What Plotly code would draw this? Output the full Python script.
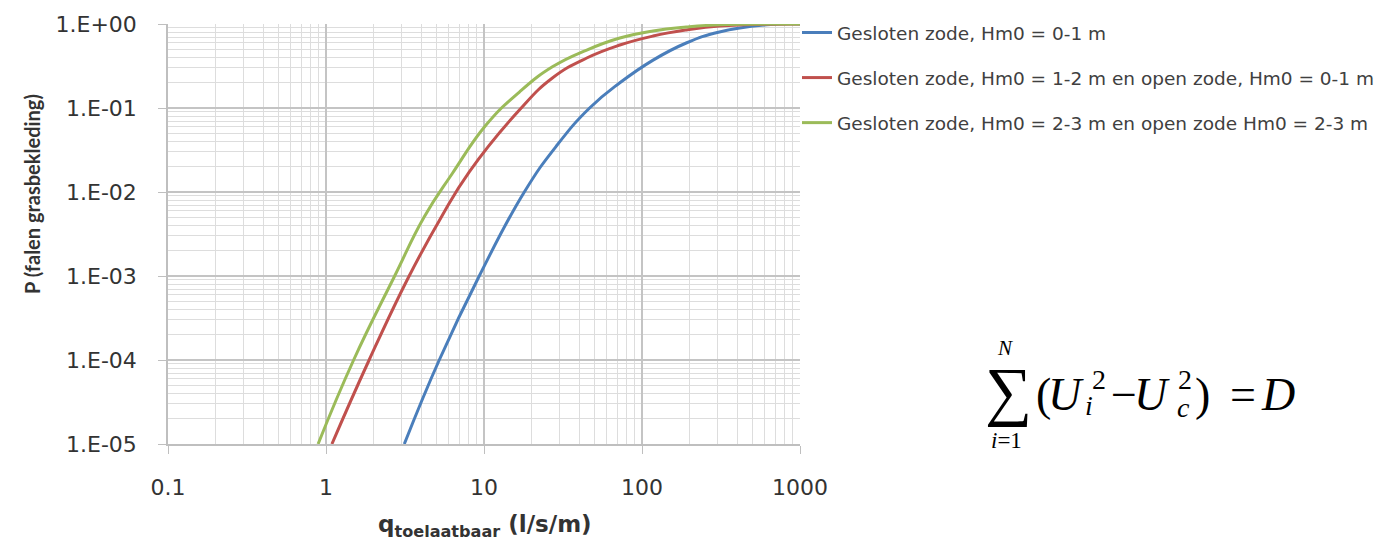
import plotly.graph_objects as go

# ---------------- data ----------------
series_names = [
    "Gesloten zode, Hm0 = 0-1 m",
    "Gesloten zode, Hm0 = 1-2 m en open zode, Hm0 = 0-1 m",
    "Gesloten zode, Hm0 = 2-3 m en open zode Hm0 = 2-3 m",
]
blue_q = [3.13, 5.21, 9.33, 18.0, 28.8, 46.6, 72.4, 117.5, 190.5, 309, 617, 1000]
blue_p = [1e-5, 1e-4, 1e-3, 1e-2, 0.0355, 0.1, 0.1995, 0.3715, 0.594, 0.804, 0.977, 1.0]

red_q = [1.09, 1.875, 3.36, 5.33, 8.07, 16.75, 27.1, 44.7, 72.4, 117.5, 190.5, 309, 1000]
red_p = [1e-5, 1e-4, 1e-3, 0.0049, 0.0174, 0.0946, 0.2275, 0.394, 0.562, 0.719, 0.849, 0.946, 1.0]

green_q = [0.891, 1.496, 2.72, 4.18, 6.30, 10.33, 16.75, 27.1, 44.7, 72.4, 117.5, 190.5, 309, 1000]
green_p = [1e-5, 1e-4, 1e-3, 0.00504, 0.0166, 0.0631, 0.155, 0.309, 0.490, 0.681, 0.826, 0.920, 0.977, 1.0]

x_tickvals = [0.1, 1, 10, 100, 1000]
x_ticktext = ["0.1", "1", "10", "100", "1000"]
y_tickvals = [1, 1e-1, 1e-2, 1e-3, 1e-4, 1e-5]
y_ticktext = ["1.E+00", "1.E-01", "1.E-02", "1.E-03", "1.E-04", "1.E-05"]

colors = ["#4A7EBB", "#C0504D", "#9BBB59"]

# ---------------- figure ----------------
# the page body has an 8 px margin, so the figure is 8 px smaller
W, H = 1383, 537
L, R, T, B = 160, 591, 16, 101
PW, PH = W - L - R, H - T - B


def xp(page_px):
    return (page_px - 8 - L) / PW


def yp(page_py):
    return (H - B - (page_py - 8)) / PH


fig = go.Figure()
for name, xs, ys, c in zip(series_names, [blue_q, red_q, green_q],
                           [blue_p, red_p, green_p], colors):
    fig.add_trace(go.Scatter(
        x=xs, y=ys, name=name, mode="lines", legendgroup=name,
        line=dict(color=c, width=3, shape="spline", smoothing=1.3),
    ))

grid_major = "#c4c4c4"
grid_minor = "#dddddd"
font_tick = "'DejaVu Sans', sans-serif"

axis_common = dict(
    showgrid=True, gridcolor=grid_major, gridwidth=1.5,
    minor=dict(dtick="D1", showgrid=True, gridcolor=grid_minor, gridwidth=1),
    showline=True, linecolor="#bfbfbf", linewidth=1.5,
    ticks="outside", ticklen=8, tickcolor="#bfbfbf",
    tickfont=dict(family=font_tick, size=22, color="#333333"),
    zeroline=False, automargin=False,
)
fig.update_xaxes(type="log", range=[-1, 3], tickvals=x_tickvals,
                 ticktext=x_ticktext, ticklabelstandoff=15, **axis_common)
fig.update_yaxes(type="log", range=[-5, 0], tickvals=y_tickvals,
                 ticktext=y_ticktext, ticklabelstandoff=17, **axis_common)

annotations = [
    dict(text="<b>P (falen grasbekleding)</b>", x=xp(32), y=yp(194),
         textangle=-90, font=dict(family="Lato, sans-serif", size=20, color="#333333")),
    dict(text="<b>q<sub>toelaatbaar</sub> (l/s/m)</b>", x=xp(485), y=yp(526),
         font=dict(family="'DejaVu Sans', sans-serif", size=23, color="#333333")),
]

serif = "'Liberation Serif', 'DejaVu Serif', serif"
eq_parts = [
    ("\u2211", 1008, 391, 66),
    ("<i>N</i>", 1005, 348, 21),
    ("<i>i</i>=1", 1006, 440, 23),
    ("(", 1043, 394, 46),
    ("<i>U</i>", 1066, 394, 46),
    ("2", 1099, 379, 28),
    ("<i>i</i>", 1089, 405, 28),
    ("\u2212", 1124, 394, 46),
    ("<i>U</i>", 1152, 394, 46),
    ("2", 1185, 379, 28),
    ("<i>c</i>", 1183, 407, 28),
    (")", 1202, 394, 46),
    ("=", 1243, 394, 46),
    ("<i>D</i>", 1278, 394, 46),
]
for txt, px, py, sz in eq_parts:
    annotations.append(dict(text=txt, x=xp(px), y=yp(py),
                            font=dict(family=serif, size=sz, color="#000000")))

for a in annotations:
    a.update(xref="paper", yref="paper", showarrow=False,
             xanchor="center", yanchor="middle")

fig.update_layout(
    width=W, height=H,
    margin=dict(l=L, r=R, t=T, b=B, autoexpand=False),
    plot_bgcolor="white", paper_bgcolor="white",
    annotations=annotations,
    legend=dict(
        x=xp(797), y=yp(14), xanchor="left", yanchor="top",
        font=dict(family="'DejaVu Sans', sans-serif", size=18.5, color="#404040"),
        tracegroupgap=18, itemwidth=30,
        bgcolor="rgba(0,0,0,0)",
    ),
    showlegend=True,
)

fig.write_html("out.html")
